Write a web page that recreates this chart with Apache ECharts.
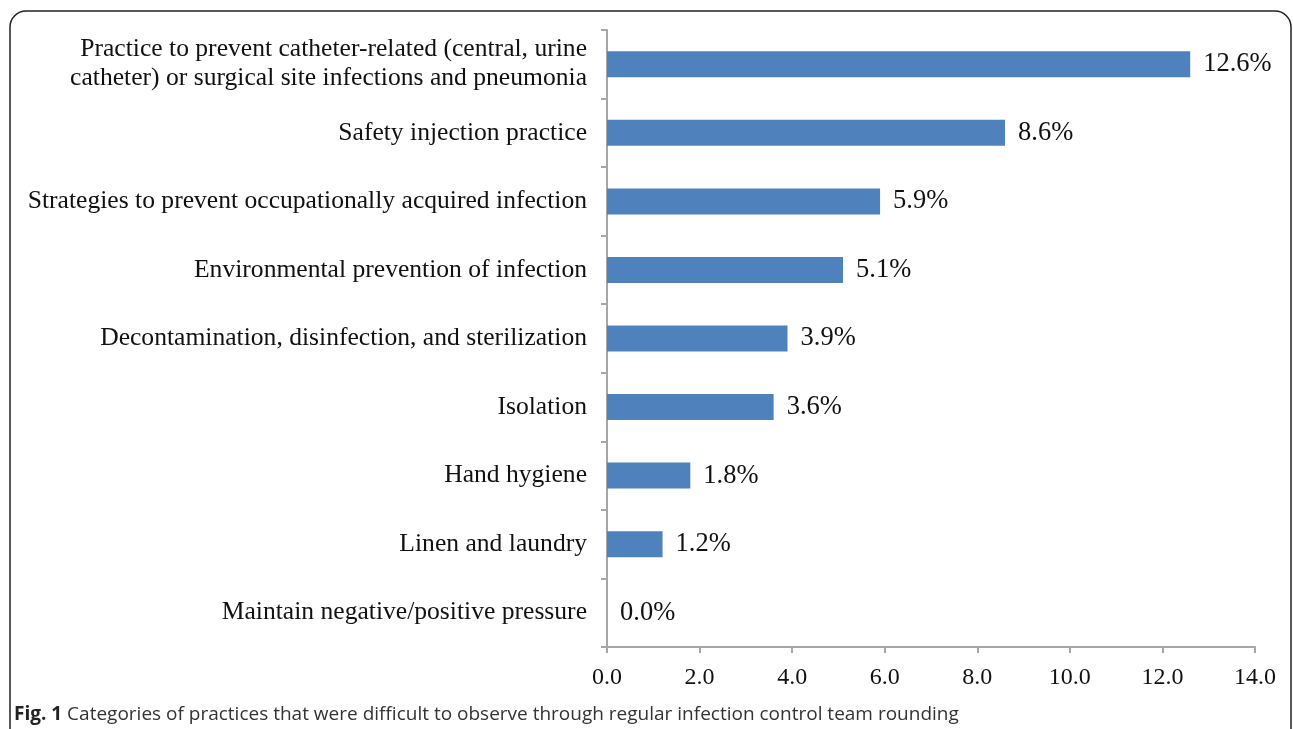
<!DOCTYPE html>
<html>
<head>
<meta charset="utf-8">
<script src="https://cdn.jsdelivr.net/npm/echarts@6/dist/echarts.min.js"></script>
<style>
html,body{margin:0;padding:0;background:#fff;}
#chart{width:1293px;height:729px;}
</style>
</head>
<body>
<div id="chart"></div>
<script>
const categories = [
  "Practice to prevent catheter-related (central, urine\ncatheter) or surgical site infections and pneumonia",
  "Safety injection practice",
  "Strategies to prevent occupationally acquired infection",
  "Environmental prevention of infection",
  "Decontamination, disinfection, and sterilization",
  "Isolation",
  "Hand hygiene",
  "Linen and laundry",
  "Maintain negative/positive pressure"
];
const values = [12.6, 8.6, 5.9, 5.1, 3.9, 3.6, 1.8, 1.2, 0.0];
const xTicks = { min: 0, max: 14, interval: 2 };
const captionBold = "Fig. 1";
const captionText = " Categories of practices that were difficult to observe through regular infection control team rounding";

const chart = echarts.init(document.getElementById('chart'), null, {renderer: 'canvas'});
const serif = '"Liberation Serif", "Times New Roman", serif';
const axisGray = '#a6a6a6';
chart.setOption({
  backgroundColor: '#ffffff',
  animation: false,
  grid: { left: 607, right: 38, top: 30, bottom: 82, containLabel: false },
  xAxis: {
    type: 'value',
    min: xTicks.min, max: xTicks.max, interval: xTicks.interval,
    axisLine: { show: true, lineStyle: { color: axisGray, width: 2 } },
    axisTick: { show: true, length: 6, lineStyle: { color: axisGray, width: 2 } },
    splitLine: { show: false },
    axisLabel: {
      color: '#111', fontFamily: serif, fontSize: 24, margin: 19,
      formatter: v => v.toFixed(1)
    }
  },
  yAxis: {
    type: 'category',
    inverse: true,
    data: categories,
    axisLine: { show: true, lineStyle: { color: axisGray, width: 2 } },
    axisTick: { show: true, length: 6, lineStyle: { color: axisGray, width: 2 } },
    axisLabel: {
      color: '#111', fontFamily: serif, fontSize: 25.6, margin: 20,
      lineHeight: 29, align: 'right'
    }
  },
  series: [{
    type: 'bar',
    data: values,
    barWidth: 26,
    itemStyle: { color: '#4f81bd' },
    label: {
      show: true, position: 'right', distance: 13,
      color: '#111', fontFamily: serif, fontSize: 26.5,
      formatter: p => p.value.toFixed(1) + '%'
    }
  }],
  graphic: [
    {
      type: 'rect',
      shape: { x: 10, y: 11, width: 1281, height: 760, r: 16 },
      style: { fill: null, stroke: '#222', lineWidth: 1.5 },
      silent: true
    },
    {
      type: 'text',
      left: 14, top: 705,
      style: {
        text: '{b|' + captionBold + '}{n|' + captionText + '}',
        rich: {
          b: { fontFamily: '"Open Sans", sans-serif', fontWeight: 'bold', fontSize: 19, fill: '#222' },
          n: { fontFamily: '"Open Sans", sans-serif', fontSize: 19, fill: '#333' }
        }
      }
    }
  ]
});
</script>
</body>
</html>
